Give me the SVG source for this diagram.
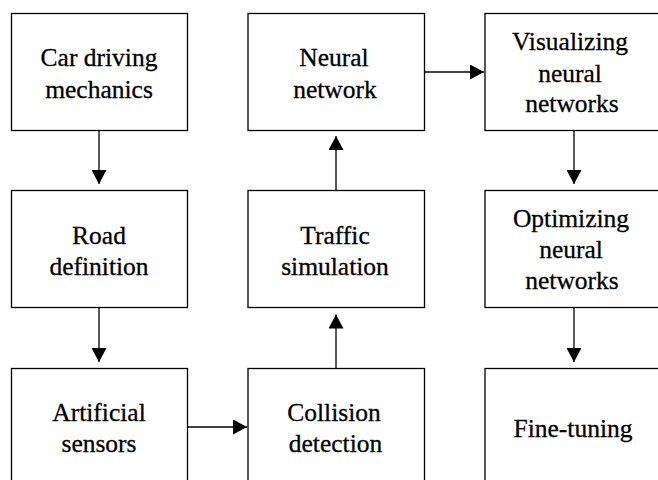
<svg xmlns="http://www.w3.org/2000/svg" width="658" height="480" viewBox="0 0 658 480">
<style>
.box{fill:#fff;stroke:#000;stroke-width:1.3}
.lbl{font-family:'Liberation Serif','Times New Roman',serif;font-size:25.5px;fill:#000;stroke:#000;stroke-width:0.3;text-anchor:middle}
.con{stroke:#000;stroke-width:1.3;fill:none;marker-end:url(#ah)}
</style>
<defs>
<marker id="ah" viewBox="0 0 14 15" refX="14" refY="7.5" markerWidth="14" markerHeight="15" markerUnits="userSpaceOnUse" orient="auto">
<path d="M0,0 L14,7.5 L0,15 z" fill="#000"/>
</marker>
</defs>
<rect width="658" height="480" fill="#fff"/>
<g id="connectors">
<path class="con" d="M99,130 L99,184"/>
<path class="con" d="M99,308 L99,362"/>
<path class="con" d="M188,427 L247,427"/>
<path class="con" d="M336,368 L336,314.5"/>
<path class="con" d="M336,190.5 L336,136"/>
<path class="con" d="M425,72 L484,72"/>
<path class="con" d="M574,130 L574,184"/>
<path class="con" d="M574,308 L574,362"/>
</g>
<g id="car">
<rect class="box" x="11.5" y="13.5" width="176" height="117"/>
<text class="lbl" x="99" y="66">Car driving</text>
<text class="lbl" x="99" y="97.5">mechanics</text>
</g>
<g id="road">
<rect class="box" x="11.5" y="190.5" width="176" height="117"/>
<text class="lbl" x="99" y="243.5">Road</text>
<text class="lbl" x="99" y="274.5">definition</text>
</g>
<g id="sensors">
<rect class="box" x="11.5" y="368.5" width="176" height="117"/>
<text class="lbl" x="99" y="420.5">Artificial</text>
<text class="lbl" x="99" y="452">sensors</text>
</g>
<g id="collision">
<rect class="box" x="248" y="368.5" width="176.5" height="117"/>
<text class="lbl" x="334" y="420.5">Collision</text>
<text class="lbl" x="335.5" y="452">detection</text>
</g>
<g id="traffic">
<rect class="box" x="248" y="190.5" width="176.5" height="117"/>
<text class="lbl" x="335" y="243.5">Traffic</text>
<text class="lbl" x="335" y="274.5">simulation</text>
</g>
<g id="neural">
<rect class="box" x="248" y="13.5" width="176.5" height="117"/>
<text class="lbl" x="334" y="66">Neural</text>
<text class="lbl" x="335" y="97.5">network</text>
</g>
<g id="visualizing">
<rect class="box" x="485" y="13.5" width="177" height="117"/>
<text class="lbl" x="570" y="50">Visualizing</text>
<text class="lbl" x="570" y="81.5">neural</text>
<text class="lbl" x="572" y="112">networks</text>
</g>
<g id="optimizing">
<rect class="box" x="485" y="190.5" width="177" height="117"/>
<text class="lbl" x="571" y="227">Optimizing</text>
<text class="lbl" x="571" y="257.5">neural</text>
<text class="lbl" x="572" y="288.5">networks</text>
</g>
<g id="finetuning">
<rect class="box" x="485" y="368.5" width="177" height="117"/>
<text class="lbl" x="573" y="436.5">Fine-tuning</text>
</g>
</svg>
